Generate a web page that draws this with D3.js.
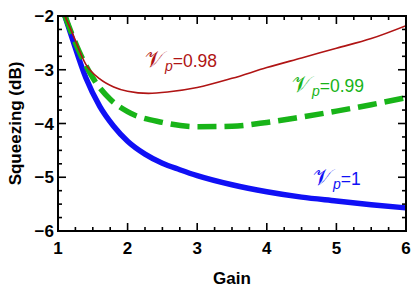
<!DOCTYPE html>
<html>
<head>
<meta charset="utf-8">
<script src="https://cdn.jsdelivr.net/npm/d3@7"></script>
<style>
  body { margin: 0; background: #fff; }
  svg { display: block; font-family: "Liberation Sans", Arial, sans-serif; }
</style>
</head>
<body>
<svg id="chart" width="415" height="291"></svg>
<script>
// gain values, one array per curve
var gainRed   = [1.1, 1.2, 1.4, 1.6, 1.8, 2.0, 2.3, 2.6, 3.0, 3.5, 4.0, 4.5, 5.0, 5.5, 6.0];
var sqzRed    = [-2.0, -2.3, -2.9, -3.17, -3.32, -3.40, -3.44, -3.41, -3.33, -3.16, -2.96, -2.78, -2.6, -2.42, -2.18];

var gainGreen = [1.1, 1.3, 1.5, 1.75, 2.0, 2.5, 3.0, 3.5, 4.0, 4.5, 5.0, 5.5, 6.0];
var sqzGreen  = [-2.0, -2.65, -3.15, -3.55, -3.78, -3.98, -4.06, -4.05, -3.98, -3.88, -3.77, -3.65, -3.52];

var gainBlue  = [1.1, 1.2, 1.4, 1.6, 1.8, 2.0, 2.25, 2.5, 2.75, 3.0, 3.5, 4.0, 4.5, 5.0, 5.5, 6.0];
var sqzBlue   = [-2.0, -2.4, -3.15, -3.68, -4.05, -4.33, -4.57, -4.74, -4.86, -4.97, -5.14, -5.27, -5.37, -5.44, -5.51, -5.57];

var xTicks = [1, 2, 3, 4, 5, 6];
var yTicks = [-2, -3, -4, -5, -6];
var labels = ["0.98", "0.99", "1"];

var svg = d3.select("#chart");
// plot box (don't call it "top", that's window.top)
var pl = 58, pr = 406, pt = 16, pb = 231;

var x = d3.scaleLinear().domain([1, 6]).range([pl, pr]);
var y = d3.scaleLinear().domain([-6, -2]).range([pb, pt]);

svg.append("clipPath").attr("id", "clip")
  .append("rect")
  .attr("x", pl).attr("y", pt)
  .attr("width", pr - pl).attr("height", pb - pt);

var line = d3.line()
  .x(function(d) { return x(d[0]); })
  .y(function(d) { return y(d[1]); })
  .curve(d3.curveMonotoneX);

function pairs(gs, vs) {
  return gs.map(function(g, i) { return [g, vs[i]]; });
}

var curves = svg.append("g").attr("clip-path", "url(#clip)");

curves.append("path")
  .attr("d", line(pairs(gainBlue, sqzBlue)))
  .attr("fill", "none").attr("stroke", "#1010f5").attr("stroke-width", 5.5);

curves.append("path")
  .attr("d", line(pairs(gainGreen, sqzGreen)))
  .attr("fill", "none").attr("stroke", "#18b418").attr("stroke-width", 5.5)
  .attr("stroke-dasharray", "19,8");

curves.append("path")
  .attr("d", line(pairs(gainRed, sqzRed)))
  .attr("fill", "none").attr("stroke", "#b01414").attr("stroke-width", 1.6);

// ticks on all four sides, pointing inward
var minorX = d3.range(1, 6.001, 0.25);
var minorY = d3.range(-6, -1.999, 0.25);
var ticks = svg.append("g").attr("stroke", "#000").attr("stroke-width", 1.6);

minorX.forEach(function(v) {
  var len = Math.abs(v - Math.round(v)) < 1e-6 ? 8 : 4;
  ticks.append("line").attr("x1", x(v)).attr("x2", x(v)).attr("y1", pb).attr("y2", pb - len);
  ticks.append("line").attr("x1", x(v)).attr("x2", x(v)).attr("y1", pt).attr("y2", pt + len);
});
minorY.forEach(function(v) {
  var len = Math.abs(v - Math.round(v)) < 1e-6 ? 8 : 4;
  ticks.append("line").attr("y1", y(v)).attr("y2", y(v)).attr("x1", pl).attr("x2", pl + len);
  ticks.append("line").attr("y1", y(v)).attr("y2", y(v)).attr("x1", pr).attr("x2", pr - len);
});

svg.append("rect")
  .attr("x", pl).attr("y", pt)
  .attr("width", pr - pl).attr("height", pb - pt)
  .attr("fill", "none").attr("stroke", "#000").attr("stroke-width", 2);

// tick labels
svg.selectAll(".xl").data(xTicks).enter().append("text")
  .attr("x", function(d) { return x(d); })
  .attr("y", pb + 23)
  .attr("text-anchor", "middle")
  .attr("font-size", 17).attr("font-weight", "bold")
  .text(function(d) { return d; });

svg.selectAll(".yl").data(yTicks).enter().append("text")
  .attr("x", pl - 4)
  .attr("y", function(d) { return y(d) + 6; })
  .attr("text-anchor", "end")
  .attr("font-size", 17).attr("font-weight", "bold")
  .text(function(d) { return "\u2212" + Math.abs(d); });

svg.append("text")
  .attr("x", (pl + pr) / 2).attr("y", 284)
  .attr("text-anchor", "middle")
  .attr("font-size", 17).attr("font-weight", "bold")
  .text("Gain");

svg.append("text")
  .attr("transform", "translate(21," + ((pt + pb) / 2) + ") rotate(-90)")
  .attr("text-anchor", "middle")
  .attr("font-size", 17).attr("font-weight", "bold")
  .text("Squeezing (dB)");

// curve labels
function curveLabel(px, py, color, val) {
  var t = svg.append("text").attr("x", px).attr("y", py)
    .attr("font-size", 17.5).attr("fill", color);
  t.append("tspan").attr("font-family", "DejaVu Serif, serif").attr("font-size", 23).text("\uD835\uDCB1");
  t.append("tspan").attr("font-style", "italic").attr("font-size", 14).attr("dy", 4).attr("dx", 1).text("p");
  t.append("tspan").attr("dy", -4).text("=" + val);
}
curveLabel(145, 67, "#b01414", labels[0]);
curveLabel(292, 92, "#18b418", labels[1]);
curveLabel(313, 185, "#1010f5", labels[2]);
</script>
</body>
</html>
